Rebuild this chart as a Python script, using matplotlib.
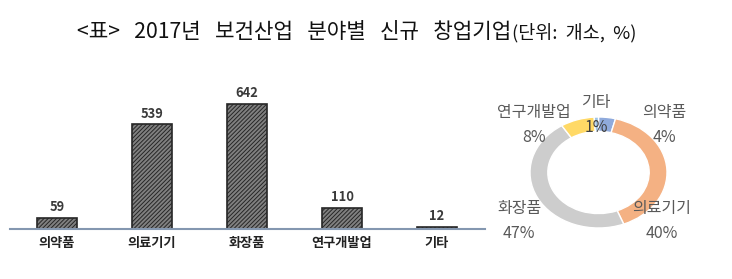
import matplotlib
matplotlib.use("Agg")
import matplotlib.pyplot as plt
import numpy as np

plt.rcParams['font.family'] = ['Noto Sans CJK KR', 'DejaVu Sans']
plt.rcParams['hatch.linewidth'] = 0.7

# data
categories = ['의약품', '의료기기', '화장품', '연구개발업', '기타']
counts = [59, 539, 642, 110, 12]
shares = [4, 40, 47, 8, 1]
pie_colors = ['#8FAADC', '#F4B183', '#CDCDCD', '#FFD966', '#9DC3E6']

W, H = 732, 279
fig = plt.figure(figsize=(W / 100, H / 100), dpi=100)

# title (main + unit in smaller font)
fig.text(511 / W, 1 - 32 / H, '<표>   2017년   보건산업   분야별   신규   창업기업',
         ha='right', va='center', fontsize=15.3, color='#111111')
fig.text(512 / W, 1 - 33 / H, '(단위:  개소,  %)',
         ha='left', va='center', fontsize=13.3, color='#111111')

# bar chart
ax = fig.add_axes([9.5 / W, 50 / H, 475 / W, 136.3 / H])
x = np.arange(len(categories))
ax.bar(x, counts, width=0.42, facecolor='#808080', edgecolor='#262626',
       hatch='////////', linewidth=1.2)
for xi, v in zip(x, counts):
    ax.text(xi, v + 18, str(v), ha='center', va='bottom', fontsize=9.3,
            fontweight='bold', color='#3a3a3a')
ax.set_xlim(-0.5, len(categories) - 0.5)
ax.set_ylim(0, 700)
ax.set_xticks(x)
ax.set_xticklabels(categories, fontsize=9.5, fontweight='bold', color='#222222')
ax.tick_params(axis='x', length=0, pad=5)
ax.set_yticks([])
for s in ['top', 'right', 'left']:
    ax.spines[s].set_visible(False)
ax.spines['bottom'].set_color('#8497B0')
ax.spines['bottom'].set_linewidth(1.5)

# donut chart (slightly flattened, as in the original)
cx, cy, rx, ry = 598.5, 172.5, 68.5, 55.5
pax = fig.add_axes([(cx - 100) / W, (H - cy - 80) / H, 200 / W, 160 / H])
wedges, _ = pax.pie(shares, colors=pie_colors, startangle=90, counterclock=False,
                    radius=1.0, wedgeprops=dict(width=0.26, edgecolor='white',
                                                linewidth=1))
pax.set_aspect('auto')
pax.set_xlim(-100 / rx, 100 / rx)
pax.set_ylim(-80 / ry, 80 / ry)
pax.axis('off')

# label positions (pixels from figure top-left)
label_pos = [(664, 112), (662, 208), (519, 208), (534, 112), (596, 102)]
for name, pct, (lx, ly) in zip(categories, shares, label_pos):
    fig.text(lx / W, 1 - ly / H, name, ha='center', va='center',
             fontsize=11.5, color='#595959')
    pc = '#404040' if name == '기타' else '#595959'
    fig.text(lx / W, 1 - (ly + 25) / H, f'{pct}%', ha='center', va='center',
             fontsize=11.5, color=pc)

fig.savefig('out.png', dpi=100)
